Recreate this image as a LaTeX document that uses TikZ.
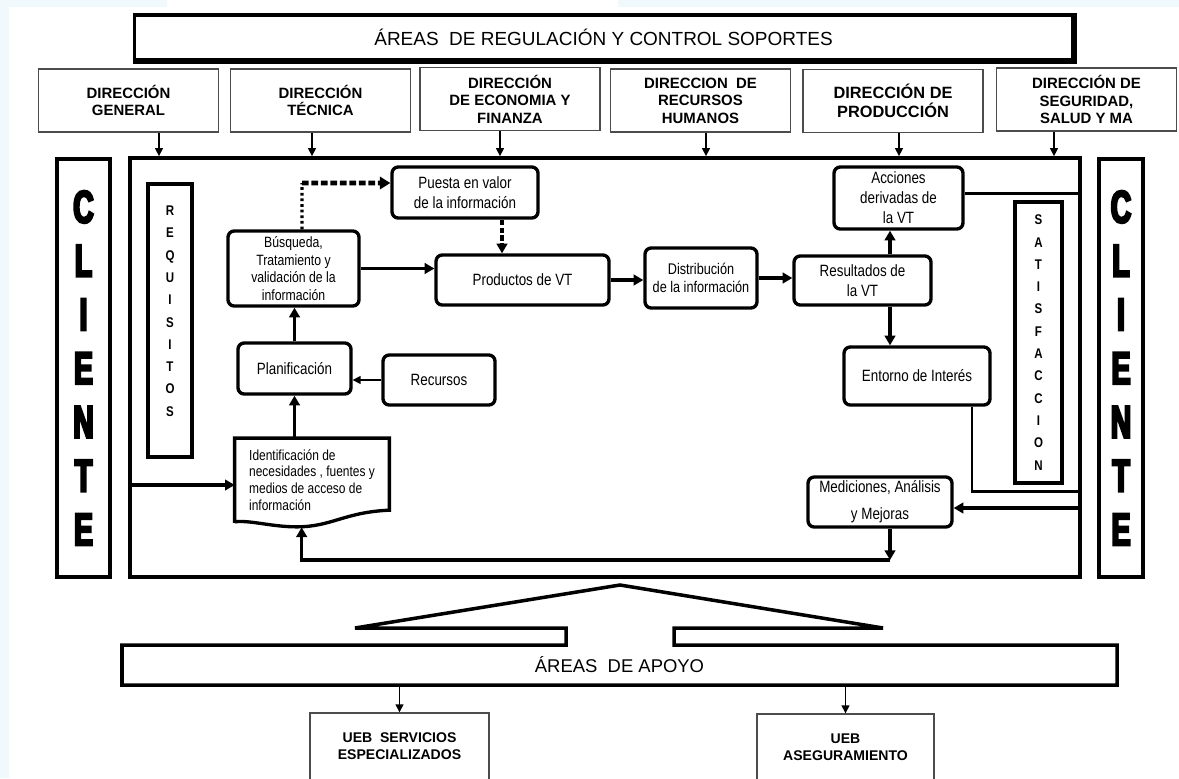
\documentclass[tikz,border=0pt]{standalone}
\usepackage{fontspec}
\setmainfont{Liberation Sans}
\newfontfamily\narrowfont[FakeStretch=0.82]{Liberation Sans}
\newfontfamily\impactfont[FakeStretch=0.62,FakeBold=5]{Liberation Sans}
\usetikzlibrary{arrows.meta, calc}
\definecolor{tint}{RGB}{240,250,253}

\begin{document}
\begin{tikzpicture}[x=0.02cm, y=-0.02cm,
dir/.style={draw=black!70, line width=0.8pt, minimum width=3.6cm, minimum height=1.26cm, align=center, inner sep=1pt, font=\bfseries\fontsize{8.5}{10}\selectfont},
proc/.style={draw, line width=1.9pt, rounded corners=3.5pt, align=center, inner sep=1pt, font=\narrowfont\fontsize{9.3}{11.3}\selectfont},
band/.style={draw, line width=2.2pt},
vert/.style={draw, line width=2pt, align=center, inner sep=0pt},
dirarrow/.style={-{Triangle[length=4.5pt,width=4.5pt]}, line width=0.7pt},
flow/.style={-{Triangle[length=5.5pt,width=6pt]}, line width=2pt},
wire/.style={line width=1.7pt}]
\tikzstyle{letters}=[font=\narrowfont\bfseries\fontsize{8}{12.7}\selectfont]
\def\rx{0.55cm}
\useasboundingbox (0,0) rectangle (1179,778);
% fondo
\fill[tint] (0,0) rectangle (167,7);
\fill[tint] (618,0) rectangle (1179,7);
\fill[tint] (0,7) rectangle (9,778);
% Areas de regulacion
\node[band, line width=1.8pt, minimum width=18.78cm, minimum height=0.9cm, font=\fontsize{10.8}{12}\selectfont] (reg) at (603.5,37.5) {ÁREAS\ \ DE REGULACIÓN Y CONTROL SOPORTES};
\draw[line width=1.4pt] ([yshift=-0.6pt]reg.south west) -- ([yshift=-0.6pt,xshift=0.6pt]reg.south east) -- ([xshift=0.6pt]reg.north east);
\node[dir] (dg) at (128.5,100.5) {DIRECCIÓN\\GENERAL};
\node[dir] (dt) at (320.5,100.5) {DIRECCIÓN\\TÉCNICA};
\node[dir] (de) at (510,99) {DIRECCIÓN\\DE ECONOMIA Y\\FINANZA};
\node[dir] (dr) at (700.5,100.5) {DIRECCION\ \ DE\\RECURSOS\\HUMANOS};
\node[dir, font=\bfseries\fontsize{9.3}{10.6}\selectfont] (dp) at (893,101) {DIRECCIÓN DE\\PRODUCCIÓN};
\node[dir] (ds) at (1086.5,99.5) {DIRECCIÓN DE\\SEGURIDAD,\\SALUD Y MA};
% marco
\node[band, minimum width=19cm, minimum height=8.38cm] (frame) at (605,367.5) {};
\draw[dirarrow] ([xshift=0.61cm]dg.south) -- ([xshift=0.61cm]dg.south |- frame.north);
\draw[dirarrow] ([xshift=-0.17cm]dt.south) -- ([xshift=-0.17cm]dt.south |- frame.north);
\draw[dirarrow] ([xshift=-0.2cm]de.south) -- ([xshift=-0.2cm]de.south |- frame.north);
\draw[dirarrow] ([xshift=0.11cm]dr.south) -- ([xshift=0.11cm]dr.south |- frame.north);
\draw[dirarrow] ([xshift=0.12cm]dp.south) -- ([xshift=0.12cm]dp.south |- frame.north);
\draw[dirarrow] ([xshift=-0.65cm]ds.south) -- ([xshift=-0.65cm]ds.south |- frame.north);
% Cliente
\node[vert, minimum width=1.06cm, minimum height=8.36cm, font=\impactfont\bfseries\fontsize{26}{30.6}\selectfont] (cl) at (83.5,368) {C\\L\\I\\E\\N\\T\\E};
\node[vert, minimum width=0.88cm, minimum height=8.36cm, font=\impactfont\bfseries\fontsize{26}{30.6}\selectfont] (cr) at (1121,368) {C\\L\\I\\E\\N\\T\\E};
\node[vert, letters, minimum width=0.88cm, minimum height=5.46cm, text depth=10.8pt] (rq) at (170,320.5) {R\\E\\Q\\U\\I\\S\\I\\T\\O\\S};
\node[vert, letters, minimum width=0.94cm, minimum height=5.62cm] (sa) at (1038.5,342.5) {S\\A\\T\\I\\S\\F\\A\\C\\C\\I\\O\\N};
% procesos
\node[proc, minimum width=2.92cm, minimum height=1.02cm] (pu) at (465,192.5) {Puesta en valor\\de la información};
\node[proc, minimum width=2.62cm, minimum height=1.5cm, font=\narrowfont\fontsize{8.5}{10}\selectfont] (bu) at (293.5,268.5) {Búsqueda,\\Tratamiento y\\validación de la\\información};
\node[proc, minimum width=3.46cm, minimum height=1cm] (pr) at (522.5,280) {Productos de VT};
\node[proc, minimum width=2.24cm, minimum height=1.2cm, font=\narrowfont\fontsize{8.8}{10.5}\selectfont] (di) at (701,278) {Distribución\\de la información};
\node[proc, minimum width=2.74cm, minimum height=0.98cm] (re) at (862.5,280.5) {Resultados de\\la VT};
\node[proc, minimum width=2.58cm, minimum height=1.24cm] (ac) at (898.5,198) {Acciones\\derivadas de\\la VT};
\node[proc, minimum width=2.26cm, minimum height=1.02cm] (pl) at (294.5,368.5) {Planificación};
\node[proc, minimum width=2.24cm, minimum height=1cm] (rc) at (439,380) {Recursos};
\node[proc, minimum width=2.92cm, minimum height=1.16cm] (en) at (917,376) {Entorno de Interés};
\node[proc, minimum width=2.88cm, minimum height=1cm, font=\narrowfont\fontsize{9.3}{15.3}\selectfont] (me) at (880,502) {Mediciones, Análisis\\y Mejoras};
\node[align=left, minimum width=3.08cm, minimum height=1.66cm, inner sep=0pt, font=\narrowfont\fontsize{8.3}{9.6}\selectfont] (id) at (312,480) {Identificación de\\necesidades , fuentes y\\medios de acceso de\\información};
\draw[line width=1.9pt] ($(id.south west)+(0,1)$) -- (id.north west) -- (id.north east) -- ($(id.north east)+(0,72)$) .. controls +(-45,2) and +(35,0) .. ($(id.south west)+(62,5)$) .. controls +(-25,0) and +(15,-2) .. (id.south west);
\coordinate (idw) at ($(id.south west)+(67,5.5)$);
% conexiones
\coordinate (bend) at (302,183);
\draw[line width=1.8pt, dash pattern=on 1.6pt off 1.6pt] ([xshift=0.17cm]bu.north) -- (bend);
\draw[-{Triangle[length=6pt,width=7pt]}, line width=2.6pt, dash pattern=on 3.8pt off 1.6pt] (bend) -- ([yshift=0.19cm]pu.west);
\draw[flow, dash pattern=on 3pt off 1.5pt] ([xshift=0.74cm]pu.south) -- ([xshift=0.74cm]pu.south |- pr.north);
\draw[flow] (bu.east) -- (bu.east -| pr.west);
\draw[flow] (pr.east) -- (pr.east -| di.west);
\draw[flow] (di.east) -- (di.east -| re.west);
\draw[flow] ([xshift=\rx]re.north) -- ([xshift=\rx]re.north |- ac.south);
\draw[flow] ([xshift=\rx]re.south) -- ([xshift=\rx]re.south |- en.north);
\draw[flow] (pl.north) -- (pl.north |- bu.south);
\draw[flow] (pl.south |- id.north) -- (pl.south);
\draw[dirarrow] (rc.west) -- (rc.west -| pl.east);
\draw[flow] ([yshift=-0.1cm]id.west -| frame.west) -- ([yshift=-0.1cm]id.west);
\draw[wire] ([yshift=0.1cm]ac.east) -- ([yshift=0.1cm]ac.east -| frame.east);
\coordinate (enc) at (1080,491);
\draw[wire] ([xshift=1.1cm]en.south) |- (enc);
\draw[flow] ([yshift=-0.12cm]me.east -| frame.east) -- ([yshift=-0.12cm]me.east);
\coordinate (fb) at (890,560);
\draw[flow] ([xshift=0.2cm]me.south) -- ([xshift=0.2cm]me.south |- fb);
\draw[flow] (fb) -| (idw);
% Areas de apoyo
\draw[line width=2pt] (122,645) -- (566,645) -- (566,628) -- (355,628) -- (620,585) -- (883,628) -- (674,628) -- (674,645) -- (1117,645) -- (1117,685) -- (122,685) -- cycle;
\node[minimum width=19.9cm, minimum height=0.8cm, inner sep=0pt, font=\fontsize{10.5}{12}\selectfont] (apoyo) at (619.5,665) {ÁREAS\ \ DE APOYO};
\node[dir, minimum width=3.58cm, minimum height=1.34cm, font=\bfseries\fontsize{8}{9.6}\selectfont] (ue1) at (399.5,746.5) {UEB\ \ SERVICIOS\\ESPECIALIZADOS};
\node[dir, minimum width=3.54cm, minimum height=1.32cm, font=\bfseries\fontsize{8}{9.6}\selectfont] (ue2) at (845.5,747) {UEB\\ASEGURAMIENTO};
\draw[dirarrow] (ue1.north |- apoyo.south) -- (ue1.north);
\draw[dirarrow] (ue2.north |- apoyo.south) -- (ue2.north);
\end{tikzpicture}
\end{document}
